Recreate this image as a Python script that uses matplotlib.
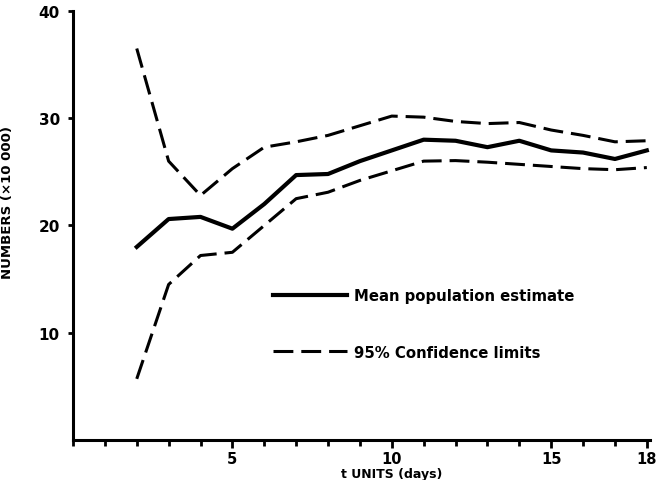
import numpy as np
import matplotlib.pyplot as plt
from matplotlib.ticker import FixedLocator, MultipleLocator

# values
t_units = [2, 3, 4, 5, 6, 7, 8, 9, 10, 11, 12, 13, 14, 15, 16, 17, 18]
mean_est = [18.0, 20.6, 20.8, 19.7, 22.0, 24.7, 24.8, 26.0, 27.0, 28.0,
            27.9, 27.3, 27.9, 27.0, 26.8, 26.2, 27.0]
upper_lim = [36.5, 26.0, 22.8, 25.3, 27.3, 27.8, 28.4, 29.3, 30.2, 30.1,
             29.7, 29.5, 29.6, 28.9, 28.4, 27.8, 27.9]
lower_lim = [5.7, 14.5, 17.2, 17.5, 20.0, 22.5, 23.1, 24.2, 25.1, 26.0,
             26.05, 25.9, 25.7, 25.5, 25.3, 25.2, 25.4]

x_labelled = [5, 10, 15, 18]
y_labelled = [10, 20, 30, 40]

plt.rcParams["font.weight"] = "bold"
plt.rcParams["axes.labelweight"] = "bold"

fig = plt.figure(figsize=(6.63, 4.81), dpi=100)
ax = fig.add_axes([0.1101, 0.0832, 0.8703, 0.8919])

dash_style = (6.5, 2.6)
ax.plot(t_units, mean_est, color="black", lw=3, label="Mean population estimate")
ax.plot(t_units, upper_lim, color="black", lw=2.2, dashes=dash_style,
        label="95% Confidence limits")
ax.plot(t_units, lower_lim, color="black", lw=2.2, dashes=dash_style)

ax.set_xlim(0, 18.1)
ax.set_ylim(0, 40)

# only left and bottom axes, drawn heavy like the original
for side in ["top", "right"]:
    ax.spines[side].set_visible(False)
for side in ["left", "bottom"]:
    ax.spines[side].set_linewidth(2.2)

ax.xaxis.set_major_locator(FixedLocator(x_labelled))
ax.xaxis.set_minor_locator(MultipleLocator(1))
ax.yaxis.set_major_locator(FixedLocator(y_labelled))
ax.tick_params(axis="x", which="both", direction="out", length=4.5, width=2, pad=2.5,
               labelsize=10.5)
ax.tick_params(axis="x", which="major", length=5.5)
ax.tick_params(axis="y", direction="out", length=3.5, width=2, pad=6, labelsize=11)

ax.set_xlabel("t UNITS (days)", fontsize=9)
ax.xaxis.set_label_coords(0.553, -0.064)
ax.set_ylabel("NUMBERS (\u00d710 000)", fontsize=9.5)
ax.yaxis.set_label_coords(-0.102, 0.557)

ax.legend(loc="upper left", bbox_to_anchor=(0.4118, 0.3992), bbox_transform=fig.transFigure,
          frameon=False, fontsize=10.7, handlelength=4.97, handletextpad=0.45,
          labelspacing=2.8, borderpad=0, borderaxespad=0)

plt.savefig("out.png", dpi=100)
